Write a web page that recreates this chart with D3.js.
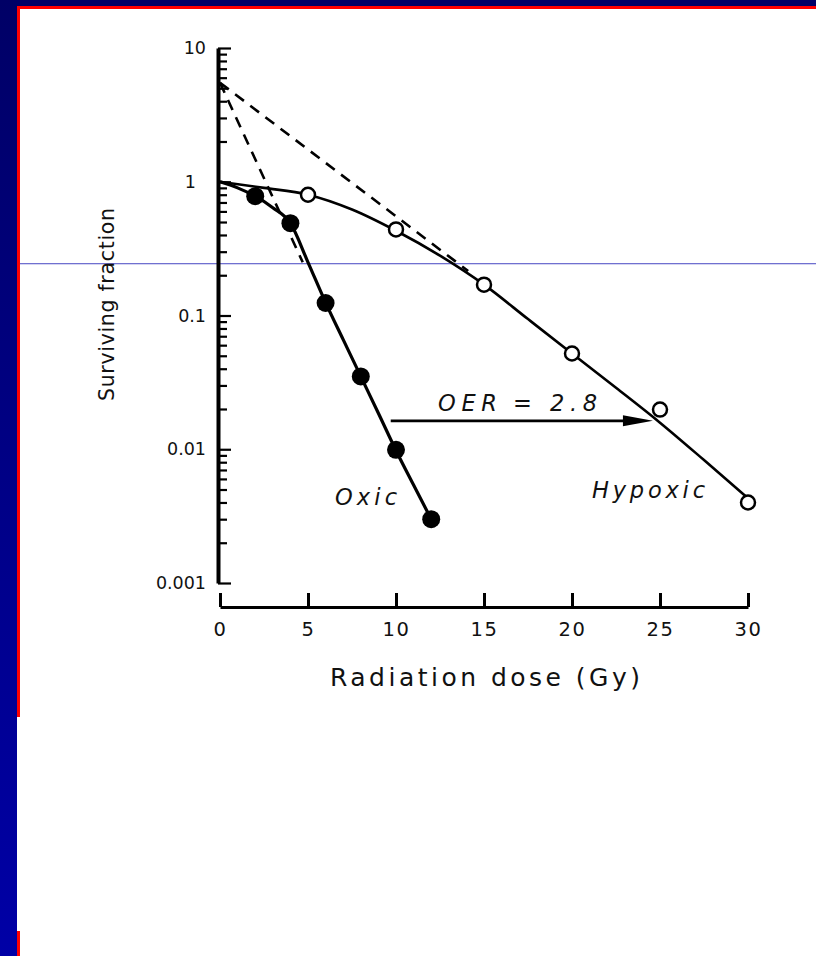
<!DOCTYPE html>
<html><head><meta charset="utf-8">
<script src="https://cdn.jsdelivr.net/npm/d3@7"></script>
<style>html,body{margin:0;padding:0;background:#fff;overflow:hidden}</style>
</head><body><svg id="c" width="816" height="956"></svg>
<script>
// ---- data ----
const oxicDose = [2, 4, 6, 8, 10, 12];
const oxicSF = [0.78, 0.49, 0.124, 0.035, 0.0099, 0.003];
const hypoxicDose = [5, 10, 15, 20, 25, 30];
const hypoxicSF = [0.8, 0.44, 0.17, 0.052, 0.0198, 0.004];
const oxicCurveDose = [0, 1, 2, 3, 4, 5, 6, 7, 8, 9, 10, 11, 12];
const oxicCurveSF = [1, 0.9, 0.78, 0.64, 0.49, 0.25, 0.125, 0.066, 0.035, 0.0186, 0.0098, 0.0054, 0.003];
const hypoxicCurveDose = [0, 2.5, 5, 7.5, 10, 12.5, 15, 17.5, 20, 22.5, 25, 27.5, 30];
const hypoxicCurveSF = [1, 0.9, 0.8, 0.62, 0.43, 0.28, 0.17, 0.094, 0.052, 0.0288, 0.0158, 0.0083, 0.0043];
const oxicExtrapDose = [0, 4.7];
const oxicExtrapSF = [5.5, 0.25];
const hypoxicExtrapDose = [0, 14.1];
const hypoxicExtrapSF = [5.5, 0.215];
const oerDose = [9.7, 24.6];
const oerSF = [0.0163, 0.0163];
const xTicks = [0, 5, 10, 15, 20, 25, 30];
const yMajor = [10, 1, 0.1, 0.01, 0.001];
const yLabels = ["10", "1", "0.1", "0.01", "0.001"];
const xTitle = "Radiation dose (Gy)";
const yTitle = "Surviving fraction";
const oerParts = ["OER", "=", "2.8"];
const oxicText = "Oxic";
const hypoxicText = "Hypoxic";

const svg = d3.select("#c");
const FONT = "'DejaVu Sans', 'Liberation Sans', Arial, sans-serif";

// ---- slide frame ----
const defs = svg.append("defs");
const g1 = defs.append("linearGradient").attr("id", "lg").attr("x1", 0).attr("y1", 0).attr("x2", 0).attr("y2", 1);
g1.append("stop").attr("offset", "0").attr("stop-color", "#000066");
g1.append("stop").attr("offset", "1").attr("stop-color", "#0000a6");
svg.append("rect").attr("x", 0).attr("y", 0).attr("width", 816).attr("height", 956).attr("fill", "#ffffff");
svg.append("rect").attr("x", 0).attr("y", 0).attr("width", 816).attr("height", 7).attr("fill", "#000066");
svg.append("rect").attr("x", 0).attr("y", 0).attr("width", 17).attr("height", 956).attr("fill", "url(#lg)");
svg.append("rect").attr("x", 17).attr("y", 6).attr("width", 799).attr("height", 3).attr("fill", "#ff0000");
svg.append("rect").attr("x", 17).attr("y", 6).attr("width", 3).attr("height", 711).attr("fill", "#ff0000");
svg.append("rect").attr("x", 17).attr("y", 931).attr("width", 3).attr("height", 25).attr("fill", "#ff0000");
svg.append("rect").attr("x", 20).attr("y", 263).attr("width", 796).attr("height", 1.3).attr("fill", "#7070d0");

// ---- scales ----
const x = d3.scaleLinear().domain([0, 30]).range([220, 748]);
const y = d3.scaleLog().domain([0.001, 10]).range([583, 48]);

// ---- y axis ----
const minor = y.ticks().filter(v => !yMajor.some(m => Math.abs(m - v) / m < 1e-6));
const yAx = svg.append("g").attr("transform", "translate(218,0)");
yAx.call(d3.axisRight(y).tickValues(yMajor).tickSize(13).tickSizeOuter(0).tickFormat(""));
yAx.append("g").call(d3.axisRight(y).tickValues(minor).tickSize(9).tickSizeOuter(0).tickFormat(""))
  .select(".domain").remove();
yAx.selectAll("path.domain").attr("stroke", "#000").attr("stroke-width", 4);
yAx.selectAll(".tick line").attr("stroke", "#000").attr("stroke-width", 2.2);

const yLab = svg.append("g").attr("transform", "translate(206,0)")
  .call(d3.axisLeft(y).tickValues(yMajor).tickSize(0).tickPadding(0)
    .tickFormat((d, i) => yLabels[i]));
yLab.select(".domain").remove();
yLab.selectAll("text").attr("font-family", FONT).attr("font-size", 17.5).attr("fill", "#111")
  .attr("dx", d => (d === 1 ? -10 : 0));

// ---- x axis ----
const xAx = svg.append("g").attr("transform", "translate(0,607)")
  .call(d3.axisTop(x).tickValues(xTicks).tickSize(14).tickSizeOuter(0).tickFormat(""));
xAx.select(".domain").attr("stroke", "#000").attr("stroke-width", 3);
xAx.selectAll(".tick line").attr("stroke", "#000").attr("stroke-width", 3);
const xLab = svg.append("g").attr("transform", "translate(0,619)")
  .call(d3.axisBottom(x).tickValues(xTicks).tickSize(0).tickPadding(3));
xLab.select(".domain").remove();
xLab.selectAll("text").attr("font-family", FONT).attr("font-size", 19.5).attr("fill", "#111")
  .attr("letter-spacing", 1.5);

// ---- titles ----
svg.append("text").attr("x", 330).attr("y", 686).attr("font-family", FONT).attr("font-size", 25)
  .attr("fill", "#111").attr("textLength", 310).attr("lengthAdjust", "spacing").text(xTitle);
svg.append("text").attr("transform", "translate(114,401) rotate(-90)").attr("font-family", FONT)
  .attr("font-size", 20.5).attr("fill", "#111").attr("textLength", 193).attr("lengthAdjust", "spacing").text(yTitle);

// ---- curves ----
const line = d3.line().x(d => x(d[0])).y(d => y(d[1])).curve(d3.curveMonotoneX);
const straight = d3.line().x(d => x(d[0])).y(d => y(d[1]));
svg.append("path").attr("d", line(d3.zip(oxicCurveDose, oxicCurveSF)))
  .attr("fill", "none").attr("stroke", "#000").attr("stroke-width", 3.2);
svg.append("path").attr("d", line(d3.zip(hypoxicCurveDose, hypoxicCurveSF)))
  .attr("fill", "none").attr("stroke", "#000").attr("stroke-width", 2.6);
[[oxicExtrapDose, oxicExtrapSF], [hypoxicExtrapDose, hypoxicExtrapSF]].forEach(([ds, ss]) => {
  svg.append("path").attr("d", straight(d3.zip(ds, ss)))
    .attr("fill", "none").attr("stroke", "#000").attr("stroke-width", 2.6).attr("stroke-dasharray", "11 8");
});

// ---- points ----
svg.append("g").selectAll("circle").data(d3.zip(oxicDose, oxicSF)).join("circle")
  .attr("cx", d => x(d[0])).attr("cy", d => y(d[1])).attr("r", 9).attr("fill", "#000");
svg.append("g").selectAll("circle").data(d3.zip(hypoxicDose, hypoxicSF)).join("circle")
  .attr("cx", d => x(d[0])).attr("cy", d => y(d[1])).attr("r", 7).attr("fill", "#fff")
  .attr("stroke", "#000").attr("stroke-width", 2.5);

// ---- OER arrow ----
const ax0 = x(oerDose[0]), ax1 = x(oerDose[1]), ay = y(oerSF[0]);
svg.append("line").attr("x1", ax0).attr("x2", ax1 - 26).attr("y1", ay).attr("y2", ay)
  .attr("stroke", "#000").attr("stroke-width", 2.6);
svg.append("path").attr("d", `M${ax1},${ay} L${ax1 - 30},${ay - 5.5} L${ax1 - 30},${ay + 5.5} Z`).attr("fill", "#000");

// ---- annotations ----
const oerT = svg.append("text").attr("y", 411).attr("font-family", FONT).attr("font-style", "italic")
  .attr("font-size", 22.5).attr("fill", "#111");
oerT.append("tspan").attr("x", 438).attr("textLength", 59).attr("lengthAdjust", "spacing").text(oerParts[0]);
oerT.append("tspan").attr("x", 513).text(oerParts[1]);
oerT.append("tspan").attr("x", 550).attr("textLength", 47).attr("lengthAdjust", "spacing").text(oerParts[2]);
svg.append("text").attr("x", 335).attr("y", 505).attr("font-family", FONT).attr("font-style", "italic")
  .attr("font-size", 22.5).attr("fill", "#111").attr("textLength", 62).attr("lengthAdjust", "spacing").text(oxicText);
svg.append("text").attr("x", 592).attr("y", 498).attr("font-family", FONT).attr("font-style", "italic")
  .attr("font-size", 22.5).attr("fill", "#111").attr("textLength", 113).attr("lengthAdjust", "spacing").text(hypoxicText);
</script></body></html>
